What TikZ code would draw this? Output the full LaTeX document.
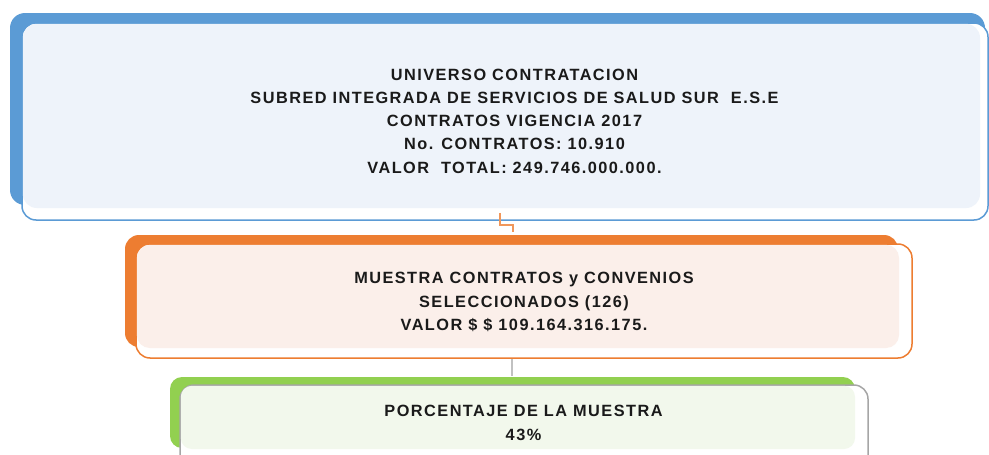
\documentclass[tikz,border=0pt]{standalone}
\usepackage{fontspec}
\setmainfont{Liberation Sans}[LetterSpace=9]
\definecolor{bluedark}{HTML}{5B9BD5}
\definecolor{bluetint}{HTML}{EEF3FA}
\definecolor{orangedark}{HTML}{ED7D31}
\definecolor{orangetint}{HTML}{FBEFEA}
\definecolor{greendark}{HTML}{92D050}
\definecolor{greentint}{HTML}{F2F8EC}
\definecolor{graybord}{HTML}{A6A6A6}
\definecolor{txt}{HTML}{1A1A1A}
\begin{document}
\begin{tikzpicture}[x=1pt,y=-1pt,
  frame/.style={draw=#1, line width=1.5pt, fill=white, rounded corners=14pt, inner sep=0pt},
  label/.style={text=txt, font=\bfseries\fontsize{16.3}{23.3}\selectfont, align=center, inner sep=0pt},
  link/.style={line width=2pt}]
\useasboundingbox (0,0) rectangle (989,455);
% ---- blue box
\fill[bluedark, rounded corners=15pt] (10,13) rectangle (985,205);
\node[frame=bluedark, minimum width=966pt, minimum height=197pt] (blue) at (505,121.5) {};
\fill[bluetint, rounded corners=14pt] (22.8,23.8) rectangle (980,208);
\node[label] (bluetext) at (514.5,121) {UNIVERSO CONTRATACION\\
SUBRED INTEGRADA DE SERVICIOS DE SALUD SUR\ \ E.S.E\\
CONTRATOS VIGENCIA 2017\\
No. CONTRATOS: 10.910\\
VALOR\ \ TOTAL: 249.746.000.000.};
% ---- orange box
\fill[orangedark, rounded corners=14pt] (125,235) rectangle (898,347);
\node[frame=orangedark, minimum width=776pt, minimum height=114pt] (orange) at (524,301) {};
\fill[orangetint, rounded corners=13pt] (136.8,244.8) rectangle (899,348);
\node[label] (orangetext) at (524,302) {MUESTRA CONTRATOS y CONVENIOS\\
SELECCIONADOS (126)\\
VALOR \$ \$ 109.164.316.175.};
% ---- green box
\fill[greendark, rounded corners=12pt] (170,377) rectangle (855,448);
\node[frame=graybord, minimum width=688pt, minimum height=100pt] (green) at (524,435) {};
\fill[greentint, rounded corners=11pt] (180.8,385.8) rectangle (855,449);
\node[label] (greentext) at (523.5,423) {PORCENTAJE DE LA MUESTRA\\43\%};
% ---- connectors
\draw[link, orangedark!80] ([xshift=-5pt,yshift=8pt]blue.south) -- ++(0,12) -| ([xshift=-11pt,yshift=11pt]orange.north);
\draw[link, graybord!70] ([xshift=-12pt]orange.south) -- ([xshift=-12pt,yshift=8pt]green.north);
\end{tikzpicture}
\end{document}
